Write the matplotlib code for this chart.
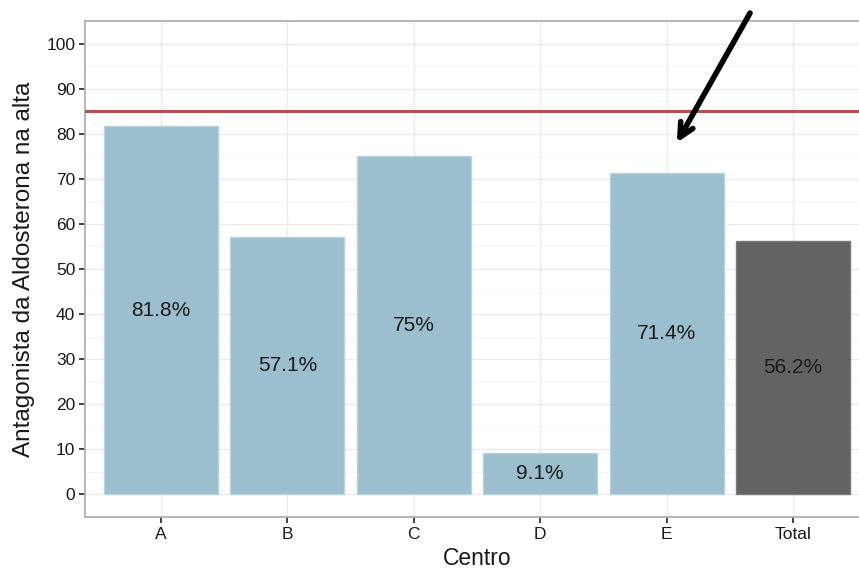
import matplotlib
matplotlib.use("Agg")
import matplotlib.pyplot as plt
from matplotlib.ticker import MultipleLocator

plt.rcParams["font.family"] = ["Liberation Sans", "DejaVu Sans"]

centros = ["A", "B", "C", "D", "E", "Total"]
pct = [81.8, 57.1, 75.0, 9.1, 71.4, 56.2]
pct_labels = ["81.8%", "57.1%", "75%", "9.1%", "71.4%", "56.2%"]
meta = 85

bar_colors = ["#9bbfce"] * 5 + ["#636363"]
edge_colors = ["#b9d3de"] * 5 + ["#7a7a7a"]

fig = plt.figure(figsize=(8.59, 5.73), dpi=100)
# panel runs slightly past the right edge of the figure
ax = fig.add_axes([85 / 859, 56 / 573, 784 / 859, 496 / 573])

x = list(range(len(centros)))
ax.bar(x, pct, width=0.9, color=bar_colors, edgecolor=edge_colors,
       linewidth=1, zorder=2)
for xi, v, lab in zip(x, pct, pct_labels):
    ax.text(xi, v / 2, lab, ha="center", va="center", fontsize=15,
            color="#1a1a1a", zorder=3)

ax.axhline(meta, color="#b5504e", linewidth=2.2, zorder=3)

ax.set_xlim(-0.6, 5.6)
ax.set_ylim(-5, 105)
ax.set_xticks(x)
ax.set_xticklabels(centros)
ax.yaxis.set_major_locator(MultipleLocator(10))
ax.yaxis.set_minor_locator(MultipleLocator(5))

ax.grid(which="major", color="#ebebeb", linewidth=1.0, zorder=0)
ax.grid(which="minor", axis="y", color="#f4f4f4", linewidth=0.8, zorder=0)
ax.set_axisbelow(True)
for s in ax.spines.values():
    s.set_color("#b0b0b0")
    s.set_linewidth(1.3)
ax.spines["right"].set_visible(False)

ax.tick_params(axis="both", which="major", length=4, width=1.3,
               color="#333333", labelsize=12.5, labelcolor="#1a1a1a", pad=3)
ax.tick_params(axis="both", which="minor", length=0)

ax.set_xlabel("Centro", fontsize=16.5, color="#1a1a1a", labelpad=4)
ax.set_ylabel("Antagonista da Aldosterona na alta", fontsize=17.5,
              color="#1a1a1a", labelpad=8)

# arrow pointing at centre E
ax.annotate("", xy=(4.07, 77.5), xytext=(4.67, 107.3),
            arrowprops=dict(arrowstyle="->,head_length=1.0,head_width=0.5",
                            color="black", lw=4),
            annotation_clip=False, zorder=5)

fig.savefig("out.png", dpi=100)
